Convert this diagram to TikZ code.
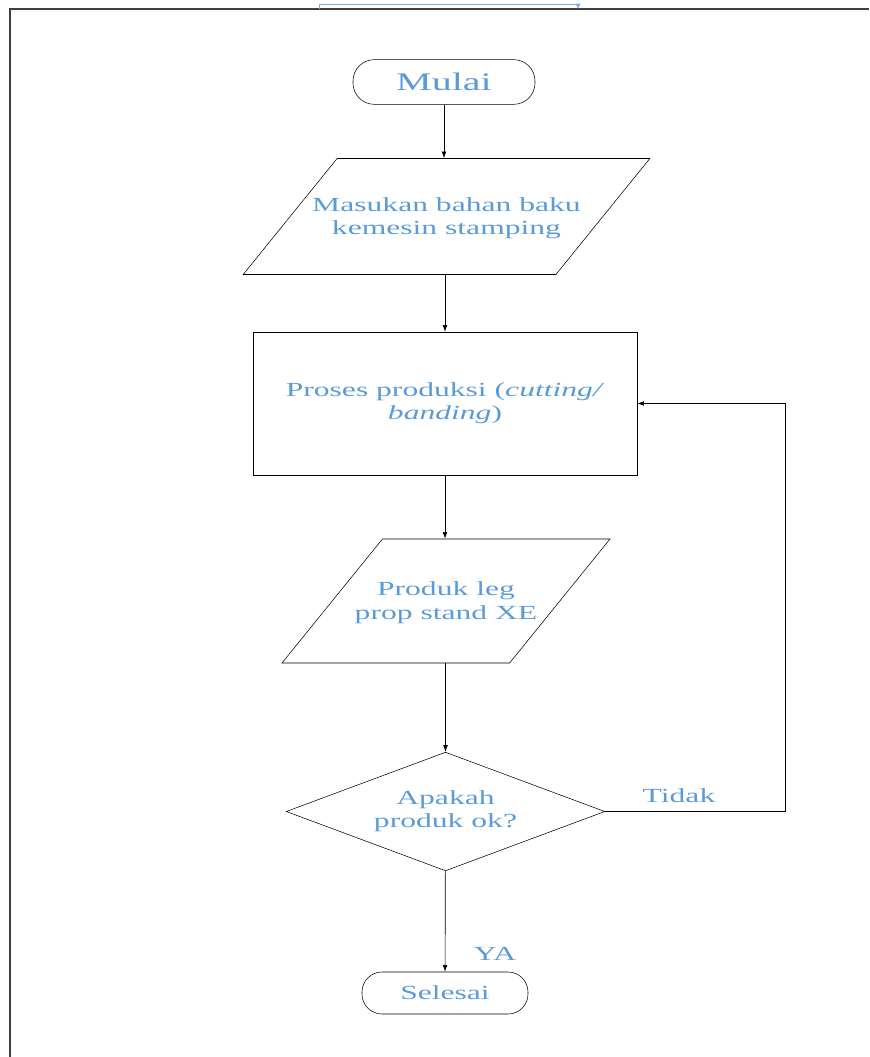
\documentclass[tikz,border=0pt]{standalone}
\usepackage{fontspec}
\setmainfont{Liberation Serif}[FakeStretch=1.58]
\usetikzlibrary{shapes.geometric,arrows.meta}
\definecolor{biruteks}{RGB}{91,155,213}
\newcommand{\teksmiring}[1]{\makebox[0pt]{\smash{\raisebox{-5pt}{\begin{tabular}{@{}c@{}}#1\end{tabular}}}}}

\begin{document}
\begin{tikzpicture}[x=0.75pt,y=-0.75pt,
		every node/.style={text=biruteks, font=\fontsize{15}{17.5}\selectfont, align=center},
		terminal/.style={draw, rectangle, rounded corners=16pt, minimum width=136.5pt, minimum height=33.5pt},
		datamasuk/.style={draw, trapezium, trapezium left angle=51, trapezium right angle=129, trapezium stretches body, inner xsep=0pt},
		prosesbox/.style={draw, rectangle, minimum width=288pt, minimum height=107pt},
		keputusan/.style={draw, diamond, aspect=2.7, inner sep=0pt, minimum width=239pt, minimum height=89pt},
		panah/.style={-{Latex[length=5pt,width=3.5pt]}, line width=0.5pt},
		label/.style={inner sep=1pt}]
	\useasboundingbox (0,0) rectangle (869,1057);
	\draw[black!75, line width=0.8pt] (869,9) -- (10,9) -- (10,1057);
	\coordinate (atasA) at (319,9); \coordinate (atasB) at (578,9);
	\draw[panah, biruteks!80, -{Latex[length=4pt,width=4pt]}] (atasA) -- ++(0,-5) -| (atasB);

	\node[terminal, font=\fontsize{19}{22}\selectfont] (mulai) at (444,82) {Mulai};
	\node[datamasuk, inner ysep=43.5pt, minimum width=305pt] (bahan) at (446.5,216.5) {\teksmiring{Masukan bahan baku\\kemesin stamping}};
	\node[prosesbox] (proses) at (445,403.5) {Proses produksi (\textit{cutting/}\\\textit{banding})};
	\node[datamasuk, inner ysep=46.5pt, minimum width=246pt] (produk) at (446,601) {\teksmiring{Produk leg\\prop stand XE}};
	\node[keputusan] (cek) at (445.5,811.5) {Apakah\\produk ok?};
	\node[terminal, minimum width=124.5pt, minimum height=31.5pt, rounded corners=15pt] (selesai) at (445,993) {Selesai};
	\coordinate (balik) at (785,811.5);

	\draw[panah] (mulai) -- (mulai |- bahan.north);
	\draw[panah] (bahan.south -| proses) -- (proses);
	\draw[panah] (proses) -- (proses |- produk.north);
	\draw[panah] (produk.south -| cek) -- (cek);
	\draw[panah] (cek) -- (selesai);
	\draw[panah] (cek.east) -- (balik) |- (proses.east);
	\node[label] (tidak) at (679,796) {Tidak};
	\node[label] (ya) at (495,954) {YA};
\end{tikzpicture}
\end{document}
